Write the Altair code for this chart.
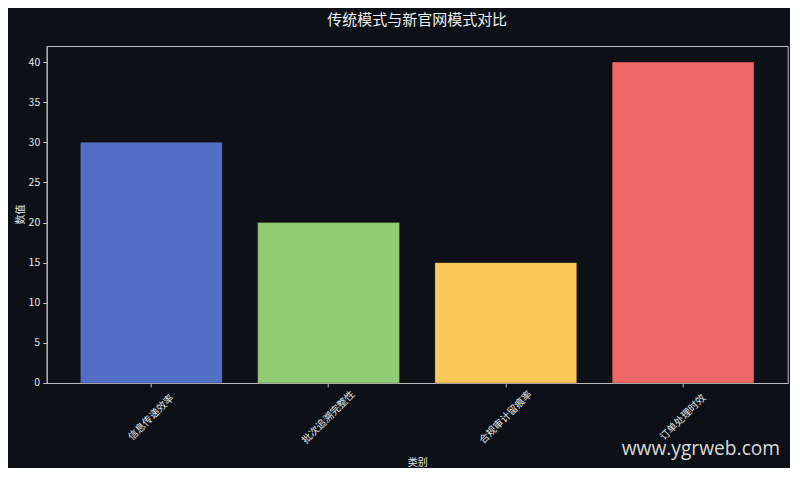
import altair as alt
import pandas as pd

categories = ["信息传递效率", "批次追溯完整性", "合规审计留痕率", "订单处理时效"]
values = [30, 20, 15, 40]
colors = ["#5470c6", "#91cc75", "#fac858", "#ee6666"]
y_ticks = [0, 5, 10, 15, 20, 25, 30, 35, 40]
title_text = "传统模式与新官网模式对比"
x_title = "类别"
y_title = "数值"
watermark = "www.ygrweb.com"

df = pd.DataFrame({"类别": categories, "数值": values})

BG = "#0d1117"
FG = "#e6e6e6"
FRAME = "#bfbfbf"
FONT = "Noto Sans CJK SC"

W, H = 741, 337

bars = alt.Chart(df).mark_bar(
    stroke="#000000", strokeOpacity=0.25, strokeWidth=1
).encode(
    x=alt.X(
        "类别:N",
        sort=categories,
        scale=alt.Scale(paddingInner=0.2, paddingOuter=0.19),
        axis=alt.Axis(
            title=x_title,
            labelAngle=315,
            labelAlign="center",
            labelBaseline="middle",
            labelPadding=30,
            labelFontSize=10,
            labelColor=FG,
            labelFont=FONT,
            tickSize=4,
            tickColor=FRAME,
            domainColor=FRAME,
            titleFont=FONT,
            titleFontSize=10,
            titleFontWeight="normal",
            titleColor=FG,
            titleY=80,
            titleBaseline="middle",
            labelOverlap=False,
        ),
    ),
    y=alt.Y(
        "数值:Q",
        scale=alt.Scale(domain=[0, 42], nice=False),
        axis=alt.Axis(
            title=y_title,
            values=y_ticks,
            grid=False,
            labelFontSize=10.5,
            labelColor=FG,
            labelFont=FONT,
            labelPadding=3,
            tickSize=4,
            tickColor=FRAME,
            domainColor=FRAME,
            titleFont=FONT,
            titleFontSize=10,
            titleFontWeight="normal",
            titleColor=FG,
            titleX=-26,
            titleY=168,
            titleAngle=270,
            titleAlign="center",
            titleBaseline="middle",
        ),
    ),
    color=alt.Color(
        "类别:N",
        scale=alt.Scale(domain=categories, range=colors),
        legend=None,
    ),
)

wm = alt.Chart(pd.DataFrame({"t": [watermark]})).mark_text(
    align="left",
    baseline="alphabetic",
    font="Open Sans",
    fontSize=19.2,
    color="#d9d9d9",
).encode(
    text="t:N",
    x=alt.value(575),
    y=alt.value(409),
)

chart = alt.layer(bars, wm).properties(
    width=W,
    height=H,
    background=BG,
    autosize=alt.AutoSizeParams(type="none"),
    padding={"left": 38.7, "top": 38, "right": 2, "bottom": 85},
    title=alt.TitleParams(
        text=title_text,
        font=FONT,
        fontSize=15,
        fontWeight="normal",
        color="#f0f0f0",
        anchor="middle",
        frame="group",
        baseline="middle",
        offset=11,
    ),
).configure_view(
    stroke=FRAME,
    strokeWidth=1,
)

chart.save("out.html", embed_options={"renderer": "svg", "actions": False})
